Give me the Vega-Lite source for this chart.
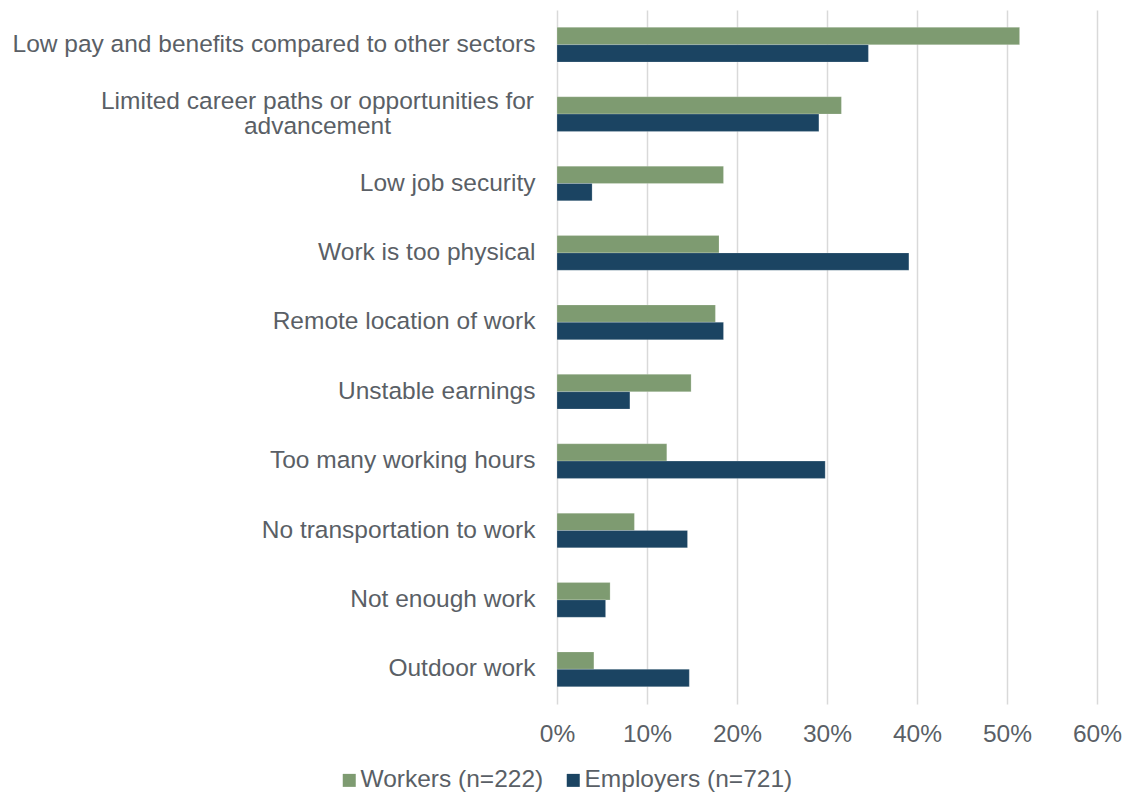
{
  "$schema": "https://vega.github.io/schema/vega-lite/v6.json",
  "autosize": {"type": "none"},
  "padding": {"left": 557, "top": 10, "right": 28, "bottom": 93},
  "width": 540,
  "height": 694,
  "background": "white",
  "data": {
    "values": [
      {"reason": "Low pay and benefits compared to other sectors", "group": "Workers (n=222)", "value": 0.514},
      {"reason": "Low pay and benefits compared to other sectors", "group": "Employers (n=721)", "value": 0.346},
      {"reason": "Limited career paths or opportunities for advancement", "group": "Workers (n=222)", "value": 0.316},
      {"reason": "Limited career paths or opportunities for advancement", "group": "Employers (n=721)", "value": 0.291},
      {"reason": "Low job security", "group": "Workers (n=222)", "value": 0.185},
      {"reason": "Low job security", "group": "Employers (n=721)", "value": 0.039},
      {"reason": "Work is too physical", "group": "Workers (n=222)", "value": 0.180},
      {"reason": "Work is too physical", "group": "Employers (n=721)", "value": 0.391},
      {"reason": "Remote location of work", "group": "Workers (n=222)", "value": 0.176},
      {"reason": "Remote location of work", "group": "Employers (n=721)", "value": 0.185},
      {"reason": "Unstable earnings", "group": "Workers (n=222)", "value": 0.149},
      {"reason": "Unstable earnings", "group": "Employers (n=721)", "value": 0.081},
      {"reason": "Too many working hours", "group": "Workers (n=222)", "value": 0.122},
      {"reason": "Too many working hours", "group": "Employers (n=721)", "value": 0.298},
      {"reason": "No transportation to work", "group": "Workers (n=222)", "value": 0.086},
      {"reason": "No transportation to work", "group": "Employers (n=721)", "value": 0.145},
      {"reason": "Not enough work", "group": "Workers (n=222)", "value": 0.059},
      {"reason": "Not enough work", "group": "Employers (n=721)", "value": 0.054},
      {"reason": "Outdoor work", "group": "Workers (n=222)", "value": 0.041},
      {"reason": "Outdoor work", "group": "Employers (n=721)", "value": 0.147}
    ]
  },
  "config": {
    "view": {"stroke": null},
    "font": "Liberation Sans",
    "axis": {"labelFont": "Liberation Sans", "labelColor": "#5a5f66", "labelFontSize": 24.5}
  },
  "mark": {"type": "bar", "stroke": "#ffffff", "strokeWidth": 0.5, "strokeOpacity": 0.4},
  "encoding": {
    "y": {
      "field": "reason",
      "type": "nominal",
      "sort": null,
      "scale": {"paddingInner": 0.5, "paddingOuter": 0.25},
      "axis": {
        "title": null,
        "ticks": false,
        "domain": false,
        "grid": false,
        "labelLimit": 0,
        "labelLineHeight": 25,
        "labelPadding": {"condition": {"test": "datum.value == 'Limited career paths or opportunities for advancement'", "value": 240}, "value": 22},
        "labelAlign": {"condition": {"test": "datum.value == 'Limited career paths or opportunities for advancement'", "value": "center"}, "value": "right"},
        "labelOffset": {"condition": {"test": "datum.value == 'Limited career paths or opportunities for advancement'", "value": -12}, "value": 0},
        "labelExpr": "datum.value == 'Limited career paths or opportunities for advancement' ? ['Limited career paths or opportunities for', 'advancement'] : datum.value"
      }
    },
    "yOffset": {
      "field": "group",
      "type": "nominal",
      "sort": ["Workers (n=222)", "Employers (n=721)"]
    },
    "x": {
      "field": "value",
      "type": "quantitative",
      "scale": {"domain": [0, 0.6], "nice": false},
      "axis": {
        "title": null,
        "format": ".0%",
        "values": [0, 0.1, 0.2, 0.3, 0.4, 0.5, 0.6],
        "ticks": false,
        "domain": false,
        "grid": true,
        "gridColor": "#d9d9d9",
        "gridWidth": 1.5,
        "labelFlush": false,
        "labelPadding": 18
      }
    },
    "color": {
      "field": "group",
      "type": "nominal",
      "sort": ["Workers (n=222)", "Employers (n=721)"],
      "scale": {"domain": ["Workers (n=222)", "Employers (n=721)"], "range": ["#7e9b71", "#1b4462"]},
      "legend": {
        "title": null,
        "orient": "none",
        "direction": "horizontal",
        "legendX": -220,
        "legendY": 758,
        "symbolType": "square",
        "symbolSize": 169,
        "symbolStrokeWidth": 0,
        "symbolOpacity": 1,
        "labelFont": "Liberation Sans",
        "labelFontSize": 24.5,
        "labelColor": "#5a5f66",
        "labelLimit": 0,
        "labelOffset": -1,
        "columnPadding": 17
      }
    }
  }
}
